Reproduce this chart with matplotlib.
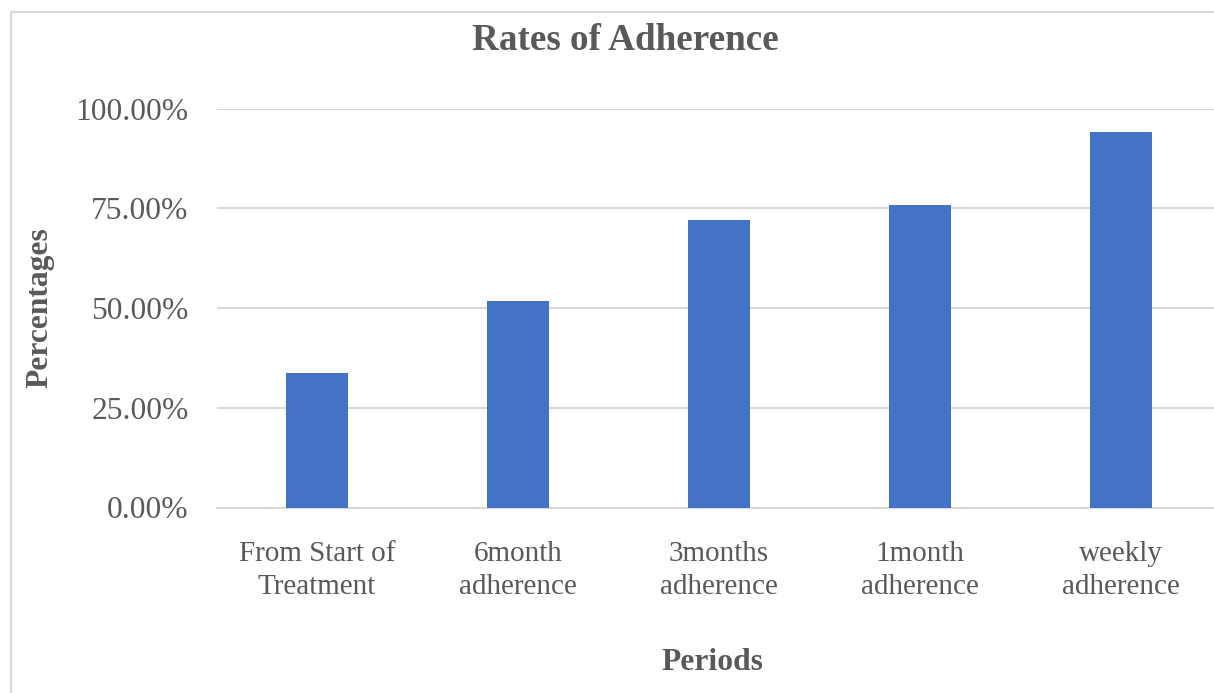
import matplotlib
matplotlib.use("Agg")
import matplotlib.pyplot as plt
from matplotlib.patches import Rectangle

categories = ["From Start of\nTreatment", "6month\nadherence", "3months\nadherence",
              "1month\nadherence", "weekly\nadherence"]
values = [33.6, 51.7, 72.0, 75.8, 94.1]
yticks = [0, 25, 50, 75, 100]
ytick_labels = ["0.00%", "25.00%", "50.00%", "75.00%", "100.00%"]

TXT = "#595959"
GRID = "#D9D9D9"
BAR = "#4472C4"
plt.rcParams['font.family'] = ['Liberation Serif', 'DejaVu Serif']

fig = plt.figure(figsize=(12.14, 6.93), dpi=100)
ax = fig.add_axes([216.5/1214, (693-507.5)/693, 1005/1214, 399/693])

x = list(range(len(categories)))
ax.bar(x, values, width=0.305, color=BAR, zorder=3)
ax.set_xlim(-0.5, len(categories) - 0.5)
ax.set_ylim(0, 100)
ax.set_yticks(yticks)
ax.set_yticklabels(ytick_labels)
ax.set_xticks(x)
ax.set_xticklabels(categories, linespacing=1.35)
ax.tick_params(axis='y', length=0, pad=20, labelsize=22.7, labelcolor=TXT)
ax.tick_params(axis='x', length=0, pad=24, labelsize=21, labelcolor=TXT)
ax.yaxis.grid(True, color=GRID, linewidth=1.5, zorder=0)
for s in ['top', 'right', 'left']:
    ax.spines[s].set_visible(False)
ax.spines['bottom'].set_color(GRID)
ax.spines['bottom'].set_linewidth(1.5)

fig.text(625/1214, 1 - 40/693, "Rates of Adherence", ha='center', va='center',
         fontsize=26.7, fontweight='bold', color=TXT)
fig.text(40/1214, 1 - 308/693, "Percentages", ha='center', va='center', rotation=90,
         fontsize=22.7, fontweight='bold', color=TXT)
fig.text(712/1214, 1 - 663/693, "Periods", ha='center', va='center',
         fontsize=22.7, fontweight='bold', color=TXT)

fig.patches.append(Rectangle((11/1214, -0.05), 1.1, 1 - 12/693 + 0.05,
                             transform=fig.transFigure, fill=False,
                             edgecolor=GRID, linewidth=1.5))

fig.savefig("out.png", dpi=100)
